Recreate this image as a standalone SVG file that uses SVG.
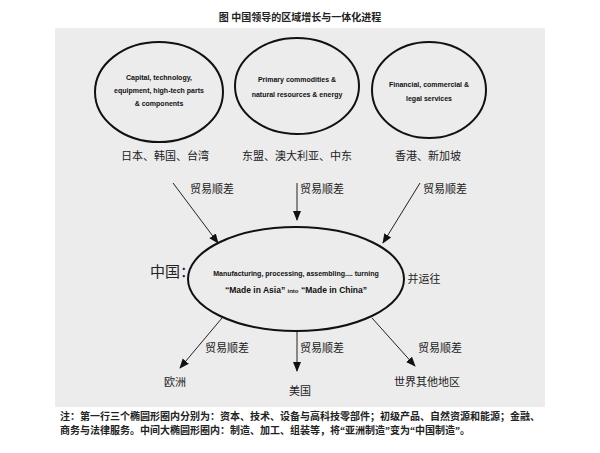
<svg xmlns="http://www.w3.org/2000/svg" width="600" height="453" viewBox="0 0 600 453">
<style>
.cn{font-family:"Liberation Serif","Noto Sans CJK SC",serif;font-size:11px;fill:#222}
.en{font-family:"Liberation Sans",Arial,sans-serif;font-size:7px;font-weight:bold;fill:#111;text-anchor:middle}
.ell{fill:none;stroke:#111;stroke-width:2}
.arr{stroke:#222;stroke-width:1;fill:none;marker-end:url(#ah)}
</style>
<defs><marker id="ah" markerWidth="10" markerHeight="10" refX="9" refY="5" orient="auto" markerUnits="userSpaceOnUse"><path d="M0,1 L10,5 L0,9 Z" fill="#111"/></marker></defs>
<rect width="600" height="453" fill="#fff"/>
<text x="300" y="21" text-anchor="middle" class="cn" style="font-weight:bold;font-size:10px">图 中国领导的区域增长与一体化进程</text>
<rect x="55" y="28" width="490" height="379" fill="#ececec"/>
<g id="n1"><ellipse class="ell" cx="159" cy="92" rx="64" ry="50"/>
<text class="en" x="159" y="80">Capital, technology,</text><text class="en" x="159" y="93">equipment, high-tech parts</text><text class="en" x="159" y="106">&amp; components</text></g>
<g id="n2"><ellipse class="ell" cx="297" cy="86" rx="62" ry="48"/>
<text class="en" x="297" y="82">Primary commodities &amp;</text><text class="en" x="297" y="97">natural resources &amp; energy</text></g>
<g id="n3"><ellipse class="ell" cx="429" cy="90" rx="57" ry="48"/>
<text class="en" x="429" y="87">Financial, commercial &amp;</text><text class="en" x="429" y="101">legal services</text></g>
<g id="china"><ellipse class="ell" cx="296" cy="279" rx="108" ry="52"/>
<text class="en" x="296" y="276">Manufacturing, processing, assembling.... turning</text>
<text class="en" x="296" y="293" style="font-size:8.5px">“Made in Asia” <tspan style="font-size:6px">into</tspan> “Made in China”</text>
<text class="cn" x="150" y="277" style="font-size:15px">中国：</text></g>
<g id="labels" class="cn">
<text x="165" y="160" text-anchor="middle">日本、韩国、台湾</text>
<text x="297" y="160" text-anchor="middle">东盟、澳大利亚、中东</text>
<text x="428" y="160" text-anchor="middle">香港、新加坡</text>
<text x="424" y="283" text-anchor="middle">并运往</text>
<text x="175" y="386" text-anchor="middle">欧洲</text>
<text x="300" y="395" text-anchor="middle">美国</text>
<text x="427" y="386" text-anchor="middle">世界其他地区</text>
<text x="212" y="193" text-anchor="middle">贸易顺差</text>
<text x="322" y="193" text-anchor="middle">贸易顺差</text>
<text x="445" y="193" text-anchor="middle">贸易顺差</text>
<text x="227" y="352" text-anchor="middle">贸易顺差</text>
<text x="322" y="352" text-anchor="middle">贸易顺差</text>
<text x="440" y="352" text-anchor="middle">贸易顺差</text>
</g>
<g id="connectors">
<line class="arr" x1="173" y1="183" x2="218" y2="243"/>
<line class="arr" x1="297" y1="183" x2="297" y2="220"/>
<line class="arr" x1="420" y1="183" x2="383" y2="243"/>
<line class="arr" x1="222" y1="318" x2="180" y2="368"/>
<line class="arr" x1="297" y1="332" x2="297" y2="371"/>
<line class="arr" x1="372" y1="318" x2="415" y2="366"/>
</g>
<g id="note" class="cn" style="font-size:10px;font-weight:bold">
<text x="60" y="420">注：第一行三个椭圆形圈内分别为：资本、技术、设备与高科技零部件；初级产品、自然资源和能源；金融、</text>
<text x="60" y="434">商务与法律服务。中间大椭圆形圈内：制造、加工、组装等，将“亚洲制造”变为“中国制造”。</text>
</g>
</svg>
